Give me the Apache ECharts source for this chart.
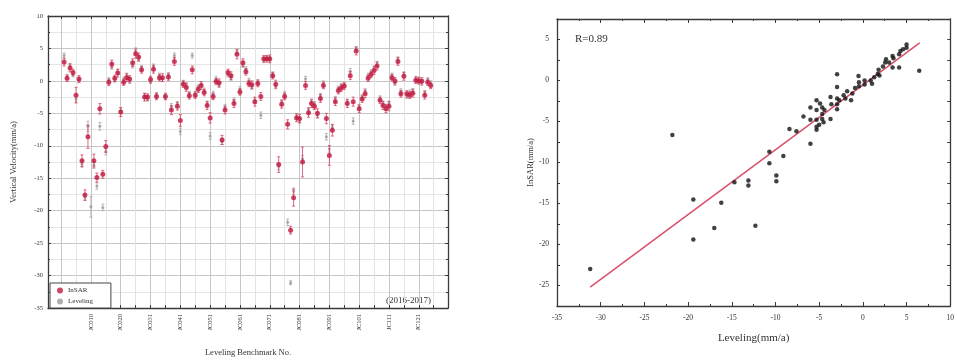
<!DOCTYPE html>
<html>
<head>
<meta charset="utf-8">
<script src="https://cdn.jsdelivr.net/npm/echarts@6/dist/echarts.min.js"></script>
<style>
  html, body { margin: 0; background: #fff; }
  #chart { width: 957px; height: 362px; }
</style>
</head>
<body>
<div id="chart"></div>
<script>
// left panel: velocity per leveling benchmark (JC001 .. JC124)
const insarVel = [
  2.9, 0.4, 2.0, 1.3, -2.2, 0.3, -12.3, -17.6, -8.6, null,
  -12.3, -14.9, -4.3, -14.4, -10.1, -0.2, 2.6, 0.4, 1.2, -4.8,
  -0.2, 0.5, 0.3, 2.8, 4.2, 3.7, 1.7, -2.5, -2.5, 0.2,
  1.8, -2.4, 0.5, 0.5, -2.4, 0.6, -4.5, 3.0, -3.9, -6.1,
  -0.5, -1.0, -2.3, 1.7, -2.2, -1.3, -0.7, -1.8, -3.8, -5.7,
  -2.4, -0.1, -0.3, -9.1, -4.5, 1.3, 0.8, -3.5, 4.1, -1.7,
  2.8, 1.4, -0.4, -0.6, -3.2, -0.4, -2.4, 3.4, 3.4, 3.4,
  0.8, -0.5, -12.9, -3.6, -2.4, -6.7, -23.0, -18.0, -5.7, -5.8,
  -12.5, -0.7, -4.9, -3.5, -3.9, -5.0, -2.7, -0.7, -5.8, -11.5,
  -7.6, -3.2, -1.5, -1.1, -0.8, -3.5, 0.8, -3.2, 4.6, -4.3,
  -2.8, -2.0, 0.4, 1.0, 1.6, 2.3, -3.0, -3.8, -4.3, -3.9,
  0.5, 0.0, 3.0, -2.0, 0.7, -2.0, -2.2, -1.9, 0.1, 0.0,
  0.0, -2.2, -0.2, -0.7
];
const insarErr = [
  0.6, 0.5, 0.6, 0.5, 1.2, 0.5, 0.9, 0.8, 1.8, null,
  1.0, 0.7, 0.8, 0.6, 0.9, 0.5, 0.6, 0.5, 0.6, 0.7,
  0.5, 0.6, 0.5, 0.6, 0.7, 0.6, 0.5, 0.6, 0.5, 0.5,
  0.6, 0.5, 0.5, 0.6, 0.5, 0.5, 0.7, 0.6, 0.6, 0.9,
  0.5, 0.6, 0.5, 0.6, 0.5, 0.5, 0.6, 0.5, 0.6, 0.8,
  0.5, 0.5, 0.6, 0.7, 0.6, 0.5, 0.6, 0.6, 0.7, 0.5,
  0.6, 0.5, 0.5, 0.6, 0.7, 0.5, 0.6, 0.5, 0.5, 0.6,
  0.5, 0.6, 1.2, 0.6, 0.5, 0.7, 0.6, 1.3, 0.6, 0.6,
  2.3, 0.6, 0.7, 0.6, 0.5, 0.7, 0.6, 0.5, 0.8, 1.5,
  0.9, 0.6, 0.5, 0.5, 0.5, 0.6, 0.6, 0.7, 0.6, 0.6,
  0.5, 0.6, 0.5, 0.5, 0.6, 0.6, 0.5, 0.6, 0.6, 0.7,
  0.5, 0.5, 0.6, 0.5, 0.6, 0.5, 0.5, 0.6, 0.5, 0.5,
  0.5, 0.6, 0.5, 0.5
];
const levelVel = [
  3.9, 0.6, 2.3, 1.0, -2.8, 0.1, -12.8, -17.9, -7.0, -19.4,
  -13.0, -16.2, -7.0, -19.5, -10.9, 0.1, 2.2, 0.2, 1.4, -4.6,
  0.2, 0.8, 0.0, 2.4, 4.6, 3.4, 2.0, -2.3, -2.7, 0.0,
  2.2, -2.2, 0.8, 0.3, -2.5, 0.9, -4.0, 3.9, -3.6, -7.8,
  -0.3, -0.7, -2.0, 3.9, -2.0, -1.0, -0.5, -1.5, -3.5, -8.5,
  -2.0, 0.3, -0.6, -9.3, -4.0, 1.0, 0.5, -3.0, 4.5, -1.3,
  2.5, 1.8, 0.0, -0.9, -3.0, -0.2, -5.3, 3.2, 3.5, 3.3,
  1.0, -0.8, -13.2, -3.3, -2.0, -21.8, -31.1, -17.0, -5.4, -6.2,
  -12.0, 0.3, -4.5, -3.2, -3.6, -5.3, -2.3, -0.4, -8.6, -10.5,
  -7.2, -2.8, -1.2, -0.8, -0.6, -3.2, 1.5, -6.2, 4.9, -4.0,
  -2.5, -1.6, 0.8, 1.3, 1.9, 2.6, -2.7, -3.5, -4.0, -3.5,
  0.8, -0.3, 3.3, -1.6, 1.0, -2.3, -1.8, -1.6, 0.3, 0.2,
  -0.3, -1.9, 0.1, -0.4
];
const levelErr = [
  0.4, 0.4, 0.4, 0.4, 0.5, 0.4, 0.5, 0.5, 0.8, 1.6,
  0.5, 0.5, 0.6, 0.5, 0.5, 0.4, 0.4, 0.4, 0.4, 0.4,
  0.4, 0.4, 0.4, 0.4, 0.5, 0.4, 0.4, 0.4, 0.4, 0.4,
  0.4, 0.4, 0.4, 0.4, 0.4, 0.4, 0.5, 0.4, 0.4, 0.5,
  0.4, 0.4, 0.4, 0.4, 0.4, 0.4, 0.4, 0.4, 0.4, 0.5,
  0.4, 0.4, 0.4, 0.5, 0.4, 0.4, 0.4, 0.4, 0.4, 0.4,
  0.4, 0.4, 0.4, 0.4, 0.4, 0.4, 0.5, 0.4, 0.4, 0.4,
  0.4, 0.4, 0.5, 0.4, 0.4, 0.5, 0.3, 0.5, 0.4, 0.4,
  0.5, 0.4, 0.4, 0.4, 0.4, 0.4, 0.4, 0.4, 0.5, 0.5,
  0.4, 0.4, 0.4, 0.4, 0.4, 0.4, 0.4, 0.5, 0.4, 0.4,
  0.4, 0.4, 0.4, 0.4, 0.4, 0.4, 0.4, 0.4, 0.4, 0.4,
  0.4, 0.4, 0.4, 0.4, 0.4, 0.4, 0.4, 0.4, 0.4, 0.4,
  0.4, 0.4, 0.4, 0.4
];
const benchNo = insarVel.map((_, i) => i + 1);

const xTickPos = [0, 5, 10, 15, 20, 25, 30, 35, 40, 45, 50, 55, 60, 65, 70, 75, 80, 85, 90, 95, 100, 105, 110, 115, 120, 125];
const xLabelPos = [10, 20, 30, 40, 50, 60, 70, 80, 90, 100, 110, 120];
const xLabels = ['JC010', 'JC020', 'JC031', 'JC041', 'JC051', 'JC061', 'JC071', 'JC081', 'JC091', 'JC101', 'JC111', 'JC121'];

// right panel: leveling vs InSAR
const scatterLev = [
  -31.2, -21.8, -19.4, -19.4, -17.0, -16.2, -14.7, -13.1, -13.1, -12.3,
  -9.9, -9.9, -10.7, -10.7, -9.1, -8.4, -7.6, -6.8, -6.0, -6.0,
  -6.0, -5.3, -5.3, -5.3, -5.3, -5.3, -4.65, -4.65, -4.65, -4.5,
  -4.4, -4.9, -5.0, -3.7, -3.7, -3.6, -2.95, -2.95, -2.95, -2.95,
  -2.95, -2.7, -2.2, -2.0, -1.8, -1.35, -1.2, -0.9, -0.5, -0.45,
  -0.45, 0.2, 0.2, 0.9, 1.05, 1.3, 1.7, 1.8, 1.9, 2.3,
  2.55, 2.65, 3.0, 3.4, 3.4, 3.5, 4.15, 4.15, 4.3, 4.6,
  5.0, 5.0, 6.45
];
const scatterIns = [
  -23.0, -6.66, -14.5, -19.4, -18.0, -14.9, -12.4, -12.2, -12.8, -17.7,
  -11.6, -12.3, -8.7, -10.1, -9.2, -5.9, -6.2, -4.4, -3.3, -4.8,
  -7.7, -2.4, -3.6, -4.8, -5.65, -6.0, -3.3, -4.1, -4.7, -5.1,
  -3.6, -2.8, -5.4, -2.0, -4.7, -2.9, 0.75, -0.8, -2.2, -2.9,
  -3.5, -2.4, -1.8, -2.2, -1.3, -2.4, -1.6, -0.9, 0.55, -0.2,
  -0.7, 0.0, -0.5, 0.0, -0.4, 0.4, 0.8, 1.3, 0.6, 1.7,
  2.2, 2.6, 2.2, 1.6, 3.0, 2.7, 1.6, 3.2, 3.6, 3.8,
  4.4, 4.0, 1.2
];
const fitX = [-31.2, 6.5];
const fitY = [-25.2, 4.6];

const font = 'Liberation Serif, DejaVu Serif, serif';
const axisColor = '#3a3a3a';

const insarBars = benchNo.map((n, i) => [n, insarVel[i], insarErr[i]]).filter(d => d[1] != null);
const levelBars = benchNo.map((n, i) => [n, levelVel[i], levelErr[i]]).filter(d => d[1] != null);

function errorBar(color) {
  return function (params, api) {
    const x = api.value(0);
    const top = api.coord([x, api.value(1) + api.value(2)]);
    const bot = api.coord([x, api.value(1) - api.value(2)]);
    const cap = 1.5;
    const style = { stroke: color, lineWidth: 0.8 };
    return {
      type: 'group',
      children: [
        { type: 'line', shape: { x1: top[0], y1: top[1], x2: bot[0], y2: bot[1] }, style },
        { type: 'line', shape: { x1: top[0] - cap, y1: top[1], x2: top[0] + cap, y2: top[1] }, style },
        { type: 'line', shape: { x1: bot[0] - cap, y1: bot[1], x2: bot[0] + cap, y2: bot[1] }, style }
      ]
    };
  };
}

const lineStyle = { color: axisColor, width: 1.3 };
const labelStyle = { fontFamily: font, color: '#333' };

const chart = echarts.init(document.getElementById('chart'));
chart.setOption({
  animation: false,
  backgroundColor: '#fff',
  textStyle: { fontFamily: font },
  grid: [
    { left: 48, top: 16, width: 400, height: 296 },
    { left: 557, top: 19, width: 399, height: 287 }
  ],
  xAxis: [
    {
      type: 'value', gridIndex: 0, min: -4.4, max: 129.8,
      name: 'Leveling Benchmark No.', nameLocation: 'middle', nameGap: 40,
      nameTextStyle: { fontFamily: font, fontSize: 8.5, color: '#333' },
      axisLine: { onZero: false, lineStyle },
      axisTick: { inside: true, length: 3, customValues: xTickPos, lineStyle: { color: axisColor } },
      axisLabel: {
        ...labelStyle, fontSize: 6.5, rotate: 90, margin: 6, customValues: xLabelPos,
        formatter: v => xLabels[xLabelPos.indexOf(v)] || ''
      },
      splitLine: { show: true, lineStyle: { color: ['#c6c6c6', '#e3e3e3'], width: 1 } }
    },
    {
      type: 'value', gridIndex: 0, position: 'top', min: -4.4, max: 129.8,
      axisLine: { onZero: false, lineStyle },
      axisTick: { inside: true, length: 3, customValues: xTickPos, lineStyle: { color: axisColor } },
      axisLabel: { show: false }, splitLine: { show: false }
    },
    {
      type: 'value', gridIndex: 1, min: -35, max: 10, interval: 5,
      name: 'Leveling(mm/a)', nameLocation: 'middle', nameGap: 27,
      nameTextStyle: { fontFamily: font, fontSize: 11, color: '#333' },
      axisLine: { onZero: false, lineStyle },
      axisTick: { inside: true, length: 4, lineStyle: { color: axisColor } },
      minorTick: { show: true, splitNumber: 2, length: 2, lineStyle: { color: axisColor } },
      axisLabel: { ...labelStyle, fontSize: 7.5, margin: 8 },
      splitLine: { show: false }
    },
    {
      type: 'value', gridIndex: 1, position: 'top', min: -35, max: 10, interval: 5,
      axisLine: { onZero: false, lineStyle },
      axisTick: { inside: true, length: 4, lineStyle: { color: axisColor } },
      minorTick: { show: true, splitNumber: 2, length: 2, lineStyle: { color: axisColor } },
      axisLabel: { show: false }, splitLine: { show: false }
    }
  ],
  yAxis: [
    {
      type: 'value', gridIndex: 0, min: -35, max: 10, interval: 5,
      name: 'Vertical Velocity(mm/a)', nameLocation: 'middle', nameGap: 30,
      nameTextStyle: { fontFamily: font, fontSize: 8.5, color: '#333' },
      axisLine: { show: true, onZero: false, lineStyle },
      axisTick: { inside: true, length: 3, lineStyle: { color: axisColor } },
      minorTick: { show: true, splitNumber: 2, length: 2, lineStyle: { color: axisColor } },
      axisLabel: { ...labelStyle, fontSize: 6.5, margin: 5 },
      splitLine: { show: true, lineStyle: { color: '#c6c6c6' } },
      minorSplitLine: { show: true, lineStyle: { color: '#e6e6e6' } }
    },
    {
      type: 'value', gridIndex: 0, position: 'right', min: -35, max: 10, interval: 5,
      axisLine: { show: true, onZero: false, lineStyle },
      axisTick: { inside: true, length: 3, lineStyle: { color: axisColor } },
      minorTick: { show: true, splitNumber: 2, length: 2, lineStyle: { color: axisColor } },
      axisLabel: { show: false }, splitLine: { show: false }
    },
    {
      type: 'value', gridIndex: 1, min: -27.5, max: 7.5, interval: 2.5,
      name: 'InSAR(mm/a)', nameLocation: 'middle', nameGap: 22,
      nameTextStyle: { fontFamily: font, fontSize: 8.5, color: '#333' },
      axisLine: { show: true, onZero: false, lineStyle },
      axisTick: { inside: true, length: 3, lineStyle: { color: axisColor } },
      axisLabel: { ...labelStyle, fontSize: 7.5, margin: 8, formatter: v => (v % 5 === 0 ? String(v) : '') },
      splitLine: { show: false }
    },
    {
      type: 'value', gridIndex: 1, position: 'right', min: -27.5, max: 7.5, interval: 2.5,
      axisLine: { show: true, onZero: false, lineStyle },
      axisTick: { inside: true, length: 3, lineStyle: { color: axisColor } },
      axisLabel: { show: false }, splitLine: { show: false }
    }
  ],
  legend: {
    data: ['InSAR', 'Leveling'],
    left: 50, top: 283, orient: 'vertical',
    icon: 'circle', itemWidth: 6, itemHeight: 6, itemGap: 4,
    padding: [4, 18, 3, 7],
    borderColor: '#444', borderWidth: 1, borderRadius: 0,
    backgroundColor: '#fff',
    textStyle: { fontFamily: font, fontSize: 7, color: '#333' }
  },
  graphic: [
    { type: 'text', left: 386, top: 296, style: { text: '(2016-2017)', font: '9px ' + font, fill: '#333' } },
    { type: 'text', left: 575, top: 34, style: { text: 'R=0.89', font: '11px ' + font, fill: '#333' } }
  ],
  series: [
    {
      type: 'custom', xAxisIndex: 0, yAxisIndex: 0, data: levelBars,
      encode: { x: 0, y: 1 }, renderItem: errorBar('#a8a8a8'), silent: true, z: 2
    },
    {
      name: 'Leveling', type: 'scatter', xAxisIndex: 0, yAxisIndex: 0,
      data: levelBars.map(d => [d[0], d[1]]),
      symbolSize: 3, itemStyle: { color: '#9a9a9a' }, z: 3
    },
    {
      type: 'custom', xAxisIndex: 0, yAxisIndex: 0, data: insarBars,
      encode: { x: 0, y: 1 }, renderItem: errorBar('#d8405e'), silent: true, z: 4
    },
    {
      name: 'InSAR', type: 'scatter', xAxisIndex: 0, yAxisIndex: 0,
      data: insarBars.map(d => [d[0], d[1]]),
      symbolSize: 5, itemStyle: { color: '#c2183f' }, z: 5
    },
    {
      type: 'line', xAxisIndex: 2, yAxisIndex: 2,
      data: fitX.map((x, i) => [x, fitY[i]]),
      showSymbol: false, lineStyle: { color: '#d9506a', width: 1.5 }, z: 3
    },
    {
      type: 'scatter', xAxisIndex: 2, yAxisIndex: 2,
      data: scatterLev.map((x, i) => [x, scatterIns[i]]),
      symbolSize: 4.5, itemStyle: { color: '#111' }, z: 4
    }
  ]
});
</script>
</body>
</html>
